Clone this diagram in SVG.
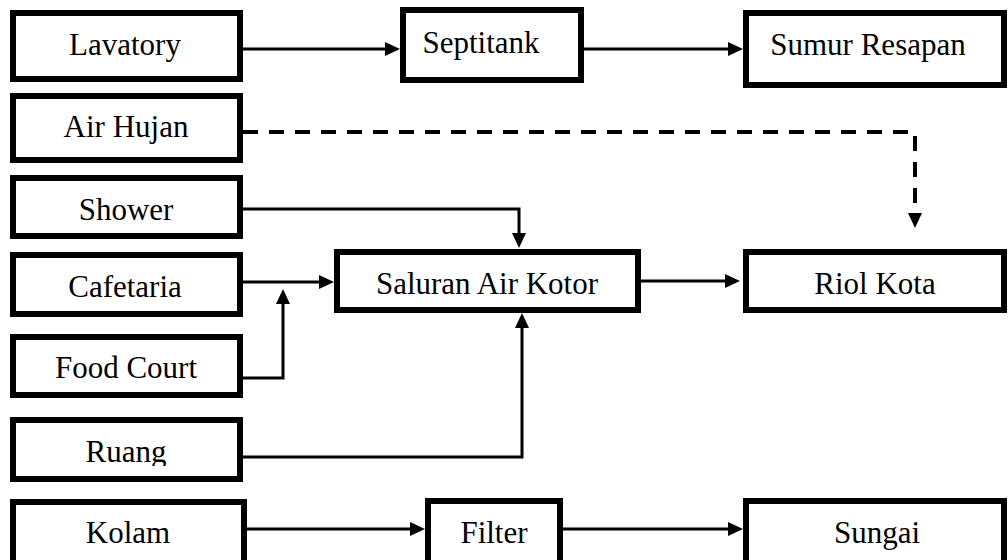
<svg xmlns="http://www.w3.org/2000/svg" width="1008" height="560" viewBox="0 0 1008 560">
<style>
.box{fill:#fff;stroke:#000;stroke-width:6}
.lbl{font-family:"Liberation Serif","Times New Roman",serif;font-size:31px;fill:#000;text-anchor:middle}
.ln{fill:none;stroke:#000;stroke-width:3}
.dash{fill:none;stroke:#000;stroke-width:4;stroke-dasharray:15 11}
</style>
<defs>
<marker id="arr" viewBox="0 0 15 14" refX="5" refY="7" markerWidth="15" markerHeight="14" markerUnits="userSpaceOnUse" orient="auto"><path d="M0,0 L15,7 L0,14 z" fill="#000"/></marker>
<marker id="arrGap" viewBox="0 0 15 14" refX="-8" refY="7" markerWidth="15" markerHeight="14" markerUnits="userSpaceOnUse" orient="auto"><path d="M0,0 L15,7 L0,14 z" fill="#000"/></marker>
<clipPath id="clipRuang"><rect x="0" y="400" width="260" height="66"/></clipPath>
<clipPath id="clipSungai"><rect x="740" y="495" width="268" height="60"/></clipPath>
</defs>
<rect width="1008" height="560" fill="#fff"/>
<g id="connectors">
<path class="ln" d="M243,49 H390" marker-end="url(#arr)"/>
<path class="ln" d="M584,49 H733" marker-end="url(#arr)"/>
<path class="dash" d="M243,132 H915 V205" marker-end="url(#arrGap)"/>
<path class="ln" d="M243,209 H519 V238" marker-end="url(#arr)"/>
<path class="ln" d="M243,282 H324" marker-end="url(#arr)"/>
<path class="ln" d="M243,378 H283 V299" marker-end="url(#arr)"/>
<path class="ln" d="M243,457 H522 V323" marker-end="url(#arr)"/>
<path class="ln" d="M641,281 H730" marker-end="url(#arr)"/>
<path class="ln" d="M247,529 H415" marker-end="url(#arr)"/>
<path class="ln" d="M563,529 H733" marker-end="url(#arr)"/>
</g>
<g id="lavatory"><rect class="box" x="13" y="13" width="227" height="66"/><text class="lbl" x="125" y="55">Lavatory</text></g>
<g id="air-hujan"><rect class="box" x="13" y="96" width="227" height="64"/><text class="lbl" x="126" y="137">Air Hujan</text></g>
<g id="shower"><rect class="box" x="13" y="178" width="227" height="58"/><text class="lbl" x="126" y="220">Shower</text></g>
<g id="cafetaria"><rect class="box" x="13" y="255" width="227" height="59"/><text class="lbl" x="125" y="297">Cafetaria</text></g>
<g id="food-court"><rect class="box" x="13" y="337" width="227" height="58"/><text class="lbl" x="126" y="378">Food Court</text></g>
<g id="ruang"><rect class="box" x="13" y="420" width="227" height="59"/><text class="lbl" x="126" y="462" clip-path="url(#clipRuang)">Ruang</text></g>
<g id="kolam"><rect class="box" x="13" y="502" width="231" height="70"/><text class="lbl" x="128" y="543">Kolam</text></g>
<g id="septitank"><rect class="box" x="403" y="10" width="178" height="70"/><text class="lbl" x="481" y="53">Septitank</text></g>
<g id="sumur-resapan"><rect class="box" x="746" y="13" width="258" height="72"/><text class="lbl" x="868" y="55">Sumur Resapan</text></g>
<g id="saluran"><rect class="box" x="337" y="252" width="301" height="58"/><text class="lbl" x="487" y="294">Saluran Air Kotor</text></g>
<g id="riol-kota"><rect class="box" x="746" y="252" width="258" height="58"/><text class="lbl" x="875" y="294">Riol Kota</text></g>
<g id="filter"><rect class="box" x="428" y="501" width="132" height="70"/><text class="lbl" x="494" y="543">Filter</text></g>
<g id="sungai"><rect class="box" x="746" y="501" width="258" height="70"/><text class="lbl" x="877" y="543" clip-path="url(#clipSungai)">Sungai</text></g>
</svg>
